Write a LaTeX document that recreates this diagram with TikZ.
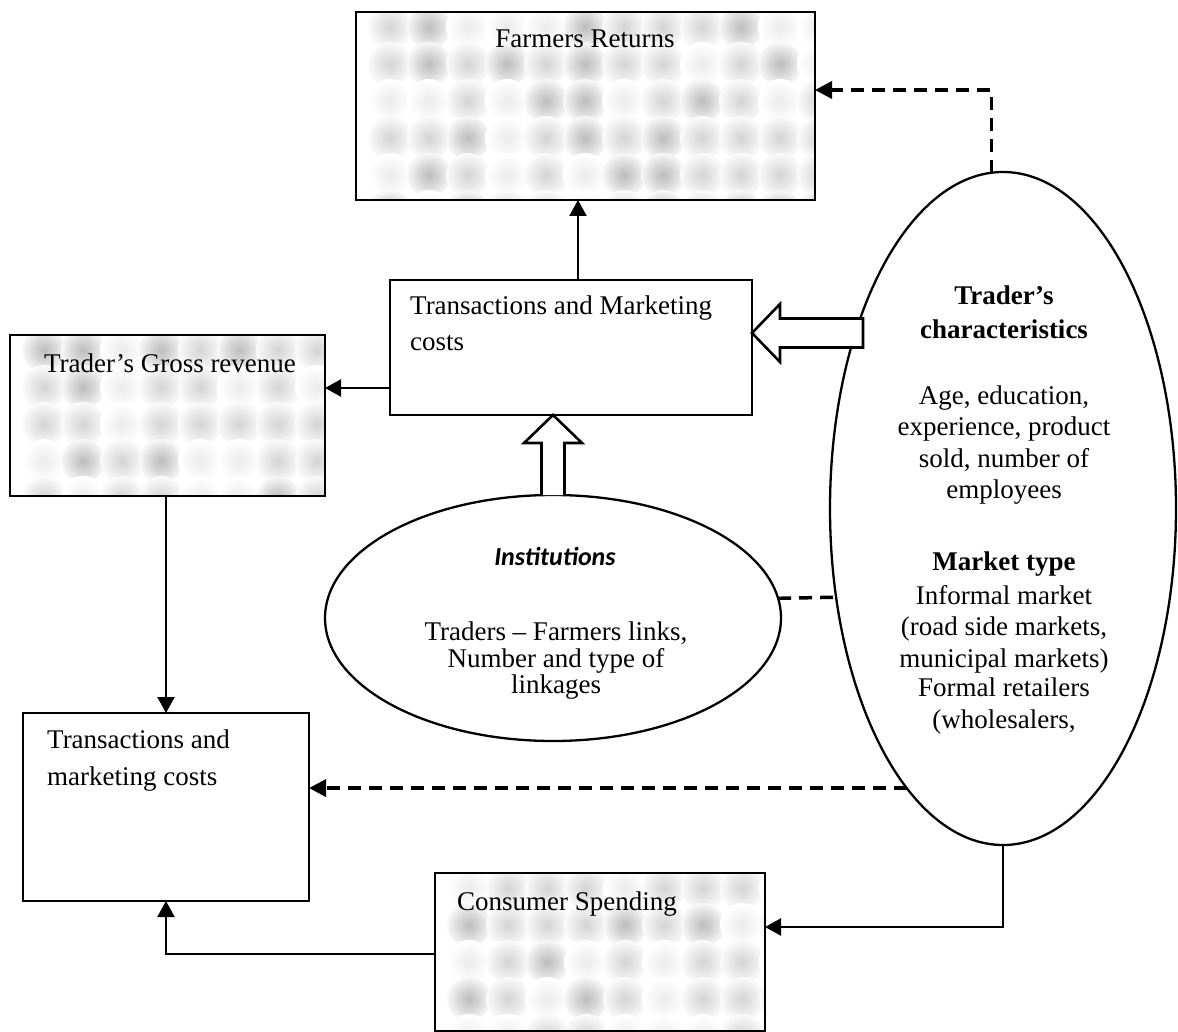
\documentclass[tikz,border=0pt]{standalone}
\usepackage{fontspec}
\setmainfont{Liberation Serif}
\newfontfamily\calibri{Carlito}
\usetikzlibrary{shapes.geometric,arrows.meta}

% soft halftone spots used to grain the shaded boxes
\pgfdeclareradialshading{blobhi}{\pgfpoint{0bp}{0bp}}{color(0bp)=(black!26); color(12bp)=(black!16); color(28bp)=(white); color(50bp)=(white)}
\pgfdeclareradialshading{blobmid}{\pgfpoint{0bp}{0bp}}{color(0bp)=(black!17); color(12bp)=(black!10); color(28bp)=(white); color(50bp)=(white)}
\pgfdeclareradialshading{bloblo}{\pgfpoint{0bp}{0bp}}{color(0bp)=(black!8); color(24bp)=(white); color(50bp)=(white)}

% #1 = top-left corner, #2 = width, #3 = height
\newcommand\grainfill[3]{%
  \begin{scope}[shift={#1}]
    \clip (0,0) rectangle (#2,#3);
    \foreach \gx in {34,73,...,500}{
      \foreach \gy in {15,52,...,200}{
        \pgfmathparse{{"hi","mid","lo","lo","mid"}[int(rnd*5)]}
        \edef\kind{\pgfmathresult}
        \shade[shading=blob\kind] (\gx,\gy) circle[radius=22pt];
      }
    }
  \end{scope}}

\begin{document}
\begin{tikzpicture}[x=1pt,y=-1pt,
  font=\fontsize{27}{31}\selectfont,
  box/.style={draw, line width=2.6pt, inner sep=0pt, outer sep=0pt},
  oval/.style={draw, ellipse, line width=2.3pt, inner sep=0pt, outer sep=0pt},
  link/.style={line width=2.3pt, -{Triangle[length=16pt,width=17pt]}},
  dline/.style={line width=3.5pt, dash pattern=on 13pt off 8pt},
  dlink/.style={dline, -{Triangle[length=17pt,width=17pt]}},
  blockarrow/.style={draw, fill=white, line width=2.6pt, line join=miter},
  lbl/.style={anchor=base, inner sep=0pt},
  lbll/.style={anchor=base west, inner sep=0pt},
]
\fill[white] (0,0) rectangle (1178,1032);
\useasboundingbox (0,0) rectangle (1178,1032);

\pgfmathsetseed{17}
% grain of the shaded boxes
\grainfill{(356,12)}{459}{188}
\grainfill{(10,335)}{315}{161}
\grainfill{(435,873)}{330}{158}

% boxes
\node[box, minimum width=459pt, minimum height=188pt] (farm)  at (585.5,106)  {};
\node[box, minimum width=362pt, minimum height=135pt] (trans) at (571,347.5)  {};
\node[box, minimum width=315pt, minimum height=161pt] (gross) at (167.5,415.5) {};
\node[box, minimum width=286pt, minimum height=188pt] (tmc)   at (166,807)    {};
\node[box, minimum width=330pt, minimum height=158pt] (cons)  at (600,952)    {};

% ovals
\node[oval, minimum width=456pt, minimum height=246pt] (inst)   at (553,618)    {};
\node[oval, minimum width=346pt, minimum height=673pt] (trader) at (1003,508.5) {};

% box texts
\node[lbl]  (t-farm)   at (585,48)  {Farmers Returns};
\node[lbll] (t-trans1) at (410,315) {Transactions and Marketing};
\node[lbll] (t-trans2) at (410,350) {costs};
\node[lbl]  (t-gross)  at (170,372) {Trader’s Gross revenue};
\node[lbll] (t-tmc1)   at (47,748)  {Transactions and};
\node[lbll] (t-tmc2)   at (47,785)  {marketing costs};
\node[lbll] (t-cons)   at (457,910) {Consumer Spending};

% institutions oval
\node[lbl, font=\calibri\bfseries\itshape\fontsize{26}{30}\selectfont] (t-inst) at (555,565) {Institutions};
\node[lbl] (t-inst1) at (556,640) {Traders – Farmers links,};
\node[lbl] (t-inst2) at (556,667) {Number and type of};
\node[lbl] (t-inst3) at (556,693) {linkages};

% trader oval
\foreach \yy/\txt [count=\k] in {305/{\bfseries Trader’s}, 338/{\bfseries characteristics},
    404/{Age, education,}, 435/{experience, product}, 467/{sold, number of}, 498/{employees},
    570/{\bfseries Market type}, 604/{Informal market}, 635/{(road side markets,},
    667/{municipal markets)}, 696/{Formal retailers}, 728/{(wholesalers,}}
  \node[lbl] (t-trader-\k) at (1004,\yy) {\txt};

% solid connectors
\draw[link] (trans.north -| 578,0) -- (farm.south -| 578,0);
\draw[link] (trans.west |- 0,388) -- (gross.east |- 0,388);
\draw[link] (gross.south -| tmc.north) -- (tmc.north);
\draw[link] (cons.west |- 0,954) -| (tmc.south);
\draw[link] (trader.south) |- (cons.east |- 0,927);

% dashed connectors
\draw[dlink] (trader.92.56) |- (farm.east |- 0,90);
\draw[dlink] (trader.251.8) -- (trader.251.8 -| tmc.east);
\draw[dline] (inst.5.08) -- (trader.208.2);

% hollow block arrows
\draw[blockarrow] (trans.east |- 0,333) -- (780,304) -- (780,318.5) -- (863,318.5)
  -- (863,347.5) -- (780,347.5) -- (780,362) -- cycle;
\draw[blockarrow] (541.5,495) -- (541.5,443) -- (524,443) -- (trans.south -| inst.north)
  -- (582,443) -- (564.5,443) -- (564.5,495);
\end{tikzpicture}
\end{document}
